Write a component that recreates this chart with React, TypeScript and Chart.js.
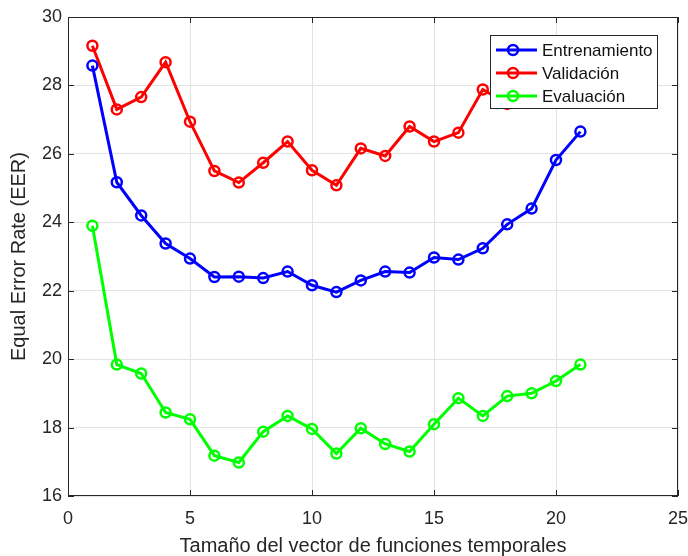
import React, { useEffect, useRef } from "react";
import { Chart, registerables } from "chart.js";

Chart.register(...registerables);

const xValues = [1, 2, 3, 4, 5, 6, 7, 8, 9, 10, 11, 12, 13, 14, 15, 16, 17, 18, 19, 20, 21];
const entrenamiento = [28.58, 25.17, 24.2, 23.38, 22.94, 22.4, 22.41, 22.37, 22.56, 22.16, 21.96, 22.3, 22.56, 22.53, 22.97, 22.91, 23.24, 23.94, 24.4, 25.82, 26.65];
const validacion = [29.16, 27.3, 27.66, 28.68, 26.94, 25.5, 25.16, 25.74, 26.36, 25.52, 25.08, 26.16, 25.94, 26.8, 26.36, 26.62, 27.88, 27.46, 28.3, 28.8, 29.1];
const evaluacion = [23.9, 19.84, 19.58, 18.44, 18.24, 17.18, 16.98, 17.88, 18.34, 17.96, 17.24, 17.98, 17.52, 17.3, 18.1, 18.86, 18.34, 18.92, 19.0, 19.36, 19.84];
const seriesNames = ["Entrenamiento", "Validación", "Evaluación"];
const seriesColors = ["#0000ff", "#ff0000", "#00ff00"];
const xTitle = "Tamaño del vector de funciones temporales";
const yTitle = "Equal Error Rate (EER)";

const FONT = "'Liberation Sans', Arial, sans-serif";
const AXIS_COLOR = "#262626";

const boxPlugin = {
  id: "matlabBox",
  afterDatasetsDraw(chart: any) {
    const { ctx, chartArea: a, scales } = chart;
    ctx.save();
    ctx.strokeStyle = AXIS_COLOR;
    ctx.lineWidth = 1;
    ctx.strokeRect(a.left + 0.5, a.top + 0.5, a.right - a.left - 1, a.bottom - a.top - 1);
    const tl = 6;
    ctx.beginPath();
    scales.x.ticks.forEach((t: any) => {
      const px = Math.round(scales.x.getPixelForValue(t.value)) + 0.5;
      ctx.moveTo(px, a.bottom);
      ctx.lineTo(px, a.bottom - tl);
      ctx.moveTo(px, a.top);
      ctx.lineTo(px, a.top + tl);
    });
    scales.y.ticks.forEach((t: any) => {
      const py = Math.round(scales.y.getPixelForValue(t.value)) + 0.5;
      ctx.moveTo(a.left, py);
      ctx.lineTo(a.left + tl, py);
      ctx.moveTo(a.right, py);
      ctx.lineTo(a.right - tl, py);
    });
    ctx.stroke();

    // legend
    const lx = 490, ly = 35, lw = 167, lh = 73;
    ctx.fillStyle = "#ffffff";
    ctx.fillRect(lx, ly, lw, lh);
    ctx.strokeStyle = AXIS_COLOR;
    ctx.lineWidth = 1;
    ctx.strokeRect(lx + 0.5, ly + 0.5, lw, lh);
    ctx.font = `17px ${FONT}`;
    ctx.textBaseline = "middle";
    ctx.textAlign = "left";
    chart.data.datasets.forEach((ds: any, i: number) => {
      const y = ly + 15 + i * 23;
      ctx.strokeStyle = ds.borderColor;
      ctx.lineWidth = 3;
      ctx.beginPath();
      ctx.moveTo(lx + 6, y);
      ctx.lineTo(lx + 47, y);
      ctx.stroke();
      ctx.lineWidth = 2.5;
      ctx.beginPath();
      ctx.arc(lx + 23, y, 5, 0, Math.PI * 2);
      ctx.stroke();
      ctx.fillStyle = "#111";
      ctx.fillText(ds.label, lx + 52, y + 1);
    });
    ctx.restore();
  },
};

export default function App() {
  const ref = useRef<HTMLCanvasElement>(null);
  useEffect(() => {
    if (!ref.current) return;
    const mk = (i: number, data: number[]) => ({
      label: seriesNames[i],
      data: data.map((v, k) => ({ x: xValues[k], y: v })),
      borderColor: seriesColors[i],
      backgroundColor: "rgba(0,0,0,0)",
      pointBorderColor: seriesColors[i],
      pointBackgroundColor: "rgba(255,255,255,0)",
      borderWidth: 3,
      pointRadius: 5,
      pointBorderWidth: 2.5,
      tension: 0,
    });
    const chart = new Chart(ref.current, {
      type: "line",
      data: {
        datasets: [mk(0, entrenamiento), mk(1, validacion), mk(2, evaluacion)],
      },
      options: {
        animation: false,
        responsive: false,
        devicePixelRatio: 1,
        layout: { padding: { top: 17, right: 10, left: 0, bottom: 0 } },
        plugins: { legend: { display: false }, tooltip: { enabled: false } },
        scales: {
          x: {
            type: "linear",
            min: 0,
            max: 25,
            afterFit: (s: any) => { s.height = 60; s.paddingRight = 0; s.paddingLeft = 0; },
            ticks: { stepSize: 5, color: AXIS_COLOR, font: { family: FONT, size: 18 }, padding: 12 },
            grid: { color: "#e3e3e3", drawTicks: false, lineWidth: 1 },
            border: { display: false },
            title: { display: true, text: xTitle, color: AXIS_COLOR, font: { family: FONT, size: 20 }, padding: { top: 0, bottom: -2 } },
          },
          y: {
            type: "linear",
            min: 16,
            max: 30,
            afterFit: (s: any) => { s.width = 68; s.paddingTop = 0; s.paddingBottom = 0; },
            ticks: { stepSize: 2, color: AXIS_COLOR, font: { family: FONT, size: 18 }, padding: 6 },
            grid: { color: "#e3e3e3", drawTicks: false, lineWidth: 1 },
            border: { display: false },
            title: { display: true, text: yTitle, color: AXIS_COLOR, font: { family: FONT, size: 20 }, padding: { top: 7, bottom: 0 } },
          },
        },
      },
      plugins: [boxPlugin],
    });
    return () => chart.destroy();
  }, []);
  return (
    <div style={{ position: "absolute", left: 0, top: 0, width: 688, height: 556, background: "#fff" }}>
      <canvas ref={ref} width={688} height={556} style={{ display: "block" }} />
    </div>
  );
}
